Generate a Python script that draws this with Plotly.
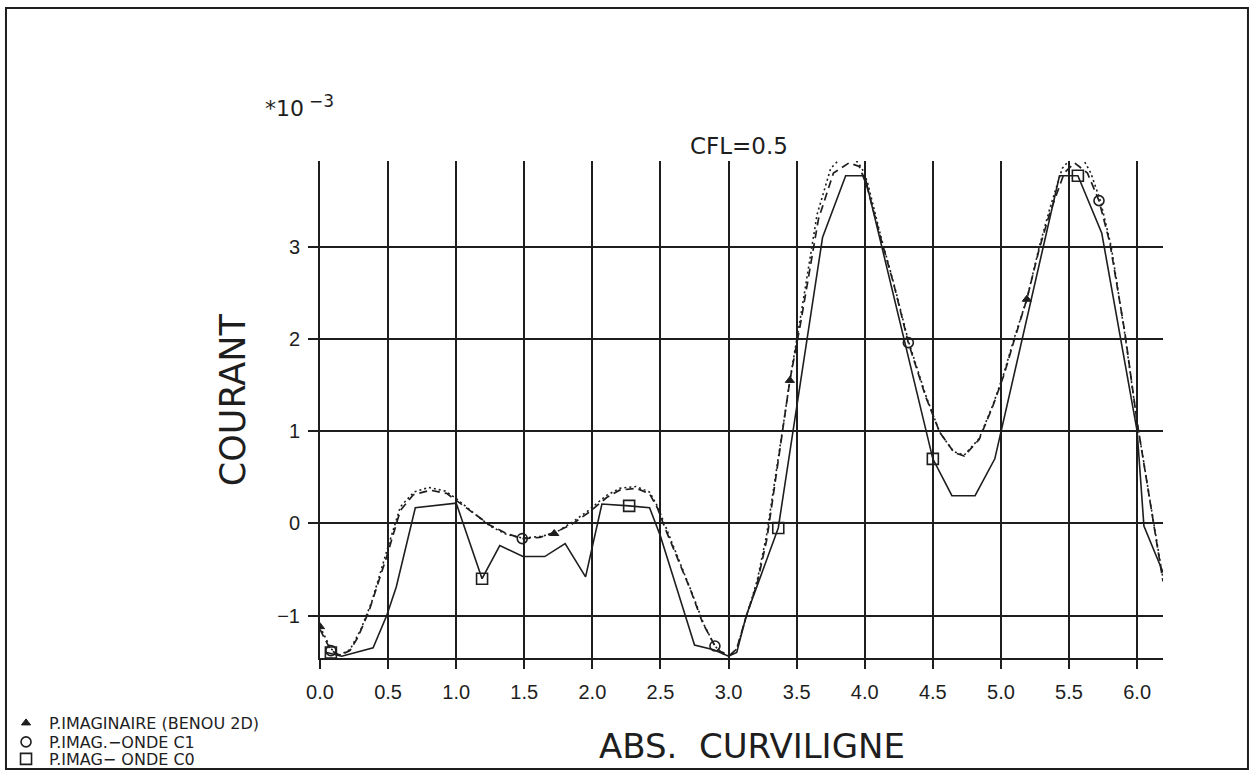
import plotly.graph_objects as go

# ---------------- data (values in units of 1e-3) ----------------
# P.IMAG-ONDE C0 (solid line)
c0_x = [0.05, 0.16, 0.39, 0.49, 0.56, 0.70, 1.00, 1.19, 1.32, 1.49, 1.65, 1.80, 1.95, 2.07, 2.27, 2.42,
        2.50, 2.75, 2.89, 3.00, 3.06, 3.13, 3.365, 3.69, 3.86, 4.00, 4.50, 4.64, 4.81, 4.955, 5.43,
        5.565, 5.74, 6.00, 6.05, 6.19]
c0_y = [-1.40, -1.44, -1.35, -1.00, -0.69, 0.17, 0.22, -0.60, -0.24, -0.36, -0.36, -0.22, -0.58, 0.21, 0.19, 0.17,
        -0.14, -1.32, -1.37, -1.44, -1.40, -1.00, -0.05, 3.10, 3.77, 3.77, 0.70, 0.30, 0.30, 0.70, 3.77,
        3.77, 3.15, 1.00, -0.03, -0.53]

# P.IMAG.-ONDE C1 (dashed line)
c1_x = [0.00, 0.08, 0.146, 0.22, 0.28, 0.36, 0.49, 0.59, 0.685, 0.81, 0.93, 1.00, 1.126, 1.248, 1.37, 1.485,
        1.615, 1.737, 1.86, 1.98, 2.105, 2.20, 2.325, 2.42, 2.48, 2.53, 2.62, 2.72, 2.81, 2.90, 2.94, 3.01,
        3.06, 3.13, 3.21, 3.28, 3.32, 3.37, 3.40, 3.45, 3.53, 3.66, 3.77, 3.885, 3.96, 4.015, 4.12, 4.21,
        4.32, 4.446, 4.55, 4.655, 4.73, 4.84, 4.94, 5.02, 5.10, 5.19, 5.28, 5.36, 5.465, 5.54, 5.635, 5.72,
        5.80, 5.91, 6.00, 6.12, 6.19]
c1_y = [-1.15, -1.38, -1.43, -1.38, -1.23, -0.95, -0.36, 0.14, 0.31, 0.36, 0.325, 0.25, 0.108, -0.02, -0.11, -0.165,
        -0.152, -0.09, 0.00, 0.126, 0.28, 0.36, 0.38, 0.32, 0.16, -0.04, -0.36, -0.72, -1.08, -1.33, -1.39, -1.43,
        -1.36, -1.01, -0.65, -0.18, 0.22, 0.75, 1.02, 1.55, 2.18, 3.30, 3.80, 3.91, 3.87, 3.66, 3.08, 2.61,
        1.96, 1.38, 0.99, 0.77, 0.73, 0.91, 1.27, 1.60, 2.00, 2.43, 2.97, 3.37, 3.80, 3.91, 3.80, 3.50,
        3.04, 2.07, 1.10, 0.00, -0.63]

# P.IMAGINAIRE (BENOU 2D) (dotted line)
bn_x = [0.00, 0.08, 0.14, 0.22, 0.30, 0.38, 0.49, 0.59, 0.69, 0.80, 0.92, 1.00, 1.13, 1.25, 1.37, 1.49,
        1.62, 1.72, 1.86, 1.98, 2.10, 2.20, 2.32, 2.42, 2.48, 2.54, 2.63, 2.73, 2.82, 2.90, 2.95, 3.01,
        3.06, 3.13, 3.21, 3.28, 3.33, 3.40, 3.45, 3.53, 3.65, 3.75, 3.83, 3.92, 3.98, 4.02, 4.12, 4.21,
        4.32, 4.45, 4.55, 4.65, 4.73, 4.84, 4.94, 5.02, 5.10, 5.19, 5.28, 5.36, 5.45, 5.52, 5.60, 5.66,
        5.73, 5.81, 5.91, 6.00, 6.12, 6.19]
bn_y = [-1.12, -1.36, -1.43, -1.37, -1.15, -0.85, -0.30, 0.18, 0.34, 0.39, 0.35, 0.27, 0.11, -0.03, -0.12, -0.16,
        -0.14, -0.11, 0.02, 0.15, 0.30, 0.38, 0.40, 0.34, 0.18, -0.04, -0.38, -0.75, -1.10, -1.33, -1.41, -1.44,
        -1.36, -1.02, -0.62, -0.12, 0.35, 1.05, 1.55, 2.25, 3.35, 3.85, 3.97, 3.97, 3.85, 3.70, 3.10, 2.62,
        1.98, 1.38, 0.99, 0.78, 0.74, 0.92, 1.28, 1.62, 2.02, 2.43, 2.99, 3.42, 3.85, 3.97, 3.96, 3.80,
        3.50, 3.00, 2.05, 1.10, 0.02, -0.60]

# marker positions
bn_mx = [0.00, 1.72, 3.45, 5.19]
bn_my = [-1.12, -0.11, 1.55, 2.43]
c1_mx = [0.08, 1.485, 2.90, 4.32, 5.72]
c1_my = [-1.38, -0.165, -1.33, 1.96, 3.50]
c0_mx = [0.08, 1.19, 2.27, 3.365, 4.50, 5.565]
c0_my = [-1.40, -0.60, 0.19, -0.05, 0.70, 3.77]

x_ticks = [0.0, 0.5, 1.0, 1.5, 2.0, 2.5, 3.0, 3.5, 4.0, 4.5, 5.0, 5.5, 6.0]
x_tick_labels = ["0.0", "0.5", "1.0", "1.5", "2.0", "2.5", "3.0", "3.5", "4.0", "4.5", "5.0", "5.5", "6.0"]
y_ticks = [-1, 0, 1, 2, 3]
y_tick_labels = ["\u22121", "0", "1", "2", "3"]

names = ["P.IMAGINAIRE (BENOU 2D)", "P.IMAG.\u2212ONDE C1", "P.IMAG\u2212 ONDE C0"]

FONT = "Liberation Sans, Arial, sans-serif"
WIDE = "DejaVu Sans, Verdana, sans-serif"
INK = "#1e1e1e"

fig = go.Figure()

# lines
fig.add_trace(go.Scatter(x=bn_x, y=bn_y, mode="lines", showlegend=False,
                         line=dict(color=INK, width=1.6, dash="2px,3px")))
fig.add_trace(go.Scatter(x=c1_x, y=c1_y, mode="lines", showlegend=False,
                         line=dict(color=INK, width=1.7, dash="8px,5px")))
fig.add_trace(go.Scatter(x=c0_x, y=c0_y, mode="lines", showlegend=False,
                         line=dict(color=INK, width=1.6)))

# markers (also legend entries, one legend box per row)
fig.add_trace(go.Scatter(x=bn_mx, y=bn_my, mode="markers", name=names[0], legend="legend",
                         marker=dict(symbol="triangle-up", size=8, color=INK,
                                     line=dict(color=INK, width=1))))
fig.add_trace(go.Scatter(x=c1_mx, y=c1_my, mode="markers", name=names[1], legend="legend2",
                         marker=dict(symbol="circle-open", size=10, color=INK,
                                     line=dict(color=INK, width=1.6))))
fig.add_trace(go.Scatter(x=c0_mx, y=c0_my, mode="markers", name=names[2], legend="legend3",
                         marker=dict(symbol="square-open", size=11, color=INK,
                                     line=dict(color=INK, width=1.6))))

leg_common = dict(x=-0.376, xanchor="left", yanchor="top", bgcolor="rgba(0,0,0,0)",
                  itemwidth=36, font=dict(family=WIDE, size=16, color=INK))

fig.update_layout(
    width=1257, height=772,
    margin=dict(l=320, r=94, t=161, b=114, autoexpand=False),
    paper_bgcolor="white", plot_bgcolor="white",
    font=dict(family=FONT, color=INK, size=20),
    showlegend=True,
    legend=dict(y=-0.0966, **leg_common),
    legend2=dict(y=-0.1348, **leg_common),
    legend3=dict(y=-0.169, **leg_common),
    xaxis=dict(range=[0, 6.19], tickvals=x_ticks, ticktext=x_tick_labels,
               showgrid=True, gridcolor=INK, gridwidth=1.5, zeroline=False,
               showline=True, linecolor=INK, linewidth=2,
               ticks="outside", ticklen=9, tickwidth=1.5, tickcolor=INK,
               ticklabelstandoff=6,
               tickfont=dict(family=FONT, size=20, color=INK)),
    yaxis=dict(range=[-1.46, 3.93], tickvals=y_ticks, ticktext=y_tick_labels,
               showgrid=True, gridcolor=INK, gridwidth=1.5, zeroline=False,
               showline=True, linecolor=INK, linewidth=2,
               ticks="outside", ticklen=10, tickwidth=1.5, tickcolor=INK,
               ticklabelstandoff=4,
               tickfont=dict(family=FONT, size=20, color=INK)),
)

fig.add_annotation(text="COURANT", xref="paper", yref="paper", x=-0.103, y=0.519,
                   textangle=-90, showarrow=False, xanchor="center", yanchor="middle",
                   font=dict(family=WIDE, size=35, color=INK))
fig.add_annotation(text="ABS.  CURVILIGNE", xref="paper", yref="paper", x=0.5125, y=-0.177,
                   showarrow=False, xanchor="center", yanchor="middle",
                   font=dict(family=WIDE, size=34, color=INK))
fig.add_annotation(text="CFL=0.5", xref="paper", yref="paper", x=0.497, y=1.03,
                   showarrow=False, xanchor="center", yanchor="middle",
                   font=dict(family=WIDE, size=23, color=INK))
fig.add_annotation(text="*10<sup> <span style='font-size:17px'>\u22123</span></sup>",
                   xref="paper", yref="paper", x=-0.0676, y=1.11,
                   showarrow=False, xanchor="left", yanchor="middle",
                   font=dict(family=WIDE, size=22, color=INK))

# outer frame
fig.add_shape(type="rect", xref="paper", yref="paper",
              x0=-0.3725, x1=1.1008, y0=-0.2233, y1=1.3078,
              line=dict(color=INK, width=2), fillcolor="rgba(0,0,0,0)")

fig.write_html("out.html",
               config={"displayModeBar": False},
               post_script="document.body.style.margin='0';document.body.style.overflow='hidden';")
